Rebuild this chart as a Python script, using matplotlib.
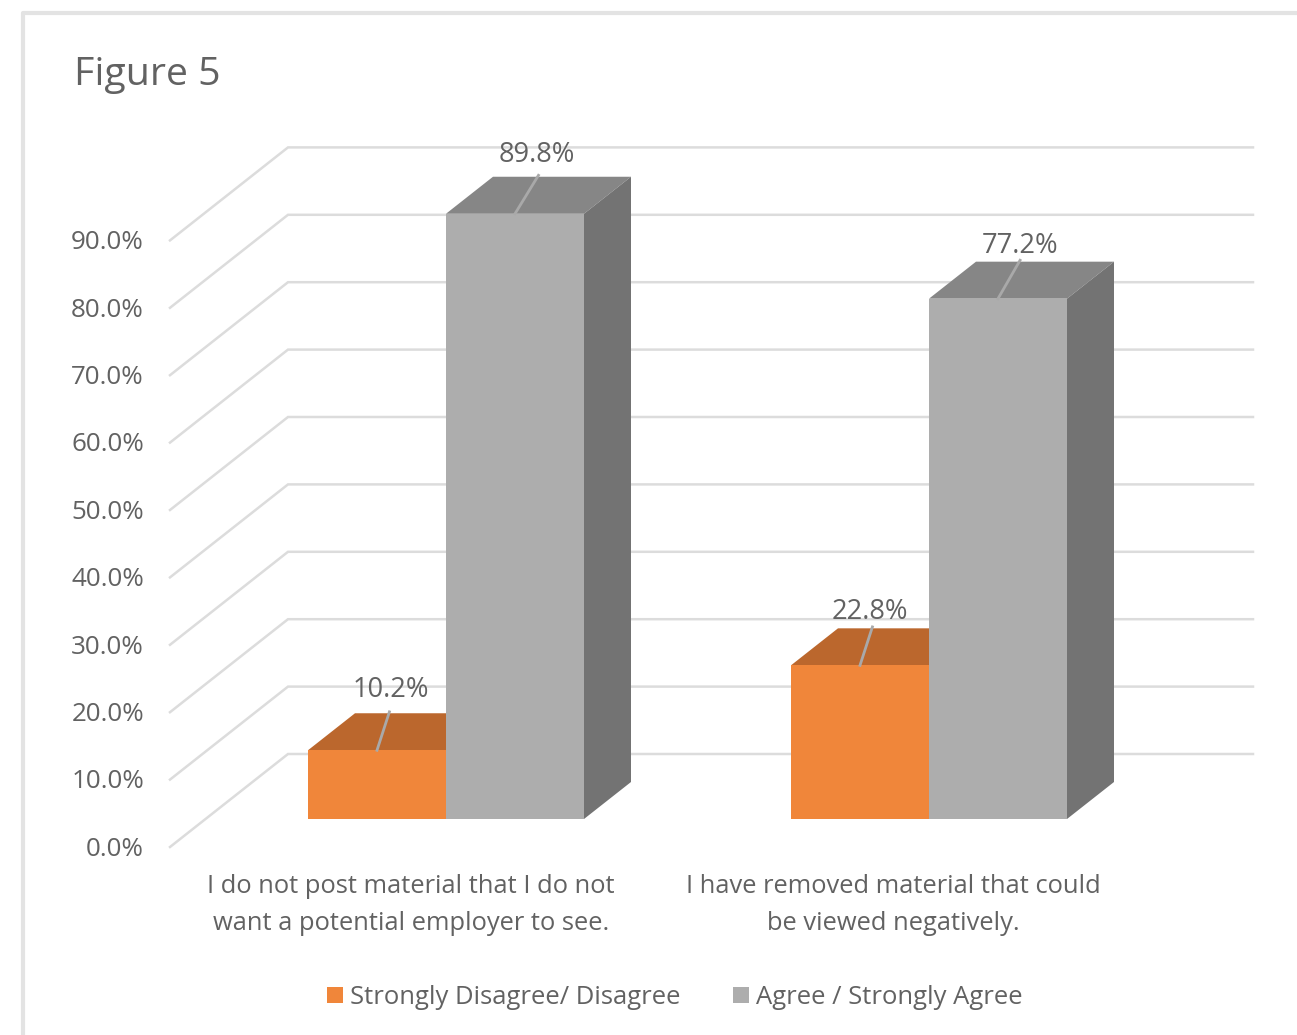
import matplotlib
matplotlib.use("Agg")
import matplotlib.pyplot as plt
from matplotlib.patches import Polygon, Rectangle

# Survey results, percent of respondents
categories = ["I do not post material that I do not\nwant a potential employer to see.",
              "I have removed material that could\nbe viewed negatively."]
series_names = ["Strongly Disagree/ Disagree", "Agree / Strongly Agree"]
disagree = [10.2, 22.8]
agree = [89.8, 77.2]
ticks = [0, 10, 20, 30, 40, 50, 60, 70, 80, 90]

W, H = 1297, 1035
PX_PER_BAR = 138.0    # one x unit
PX_PER_PCT = 6.74     # one percent
BASE_X, BASE_Y = 446.0, 819.0   # where x=0, y=0 lands on the canvas

CAT_POS = [0, 3.5]
BAR_W = 1.0
# slant of the 3D bars and of the walls, in data units
DX, DY = 47 / PX_PER_BAR, 37 / PX_PER_PCT
WALL_LEFT = (170 - BASE_X) / PX_PER_BAR
WALL_BACK = (288 - BASE_X) / PX_PER_BAR
WALL_RIGHT = (1253 - BASE_X) / PX_PER_BAR
FRONT_DROP = (819 - 847) / PX_PER_PCT
BACK_RISE = (819 - 754) / PX_PER_PCT

TEXT = "#626262"
GRID = "#dcdcdc"
ORANGE = ("#f0863a", "#bb672d")
GRAY = ("#adadad", "#868686", "#737373")

plt.rcParams["font.family"] = ["Open Sans", "DejaVu Sans"]

fig = plt.figure(figsize=(W / 100, H / 100), dpi=100, facecolor="white")
ax = fig.add_axes([0, 0, 1, 1])
ax.set_xlim(-BASE_X / PX_PER_BAR, (W - BASE_X) / PX_PER_BAR)
ax.set_ylim((BASE_Y - H) / PX_PER_PCT, BASE_Y / PX_PER_PCT)
ax.axis("off")


def px(x, y):
    return (x - BASE_X) / PX_PER_BAR, (BASE_Y - y) / PX_PER_PCT


# chart frame, top and left only
ax.plot(*zip(px(23, H), px(23, 13), px(W, 13)), color="#e3e3e3", lw=3, solid_capstyle="butt")

# gridlines running up the side wall and along the back wall
for t in ticks:
    ax.plot([WALL_LEFT, WALL_BACK, WALL_RIGHT],
            [t + FRONT_DROP, t + BACK_RISE, t + BACK_RISE],
            color=GRID, lw=1.8, solid_joinstyle="miter", zorder=1)
    ax.text(-BASE_X / PX_PER_BAR + 144 / PX_PER_BAR, t + FRONT_DROP - 0.35, "%.1f%%" % t,
            ha="right", va="center", fontsize=18.7, color=TEXT)


def bar3d(x0, v, colors, side=True):
    front, top = colors[0], colors[1]
    ax.add_patch(Polygon([(x0, v), (x0 + DX, v + DY), (x0 + BAR_W + DX, v + DY), (x0 + BAR_W, v)],
                         facecolor=top, edgecolor="none", zorder=3))
    if side:
        ax.add_patch(Polygon([(x0 + BAR_W, 0), (x0 + BAR_W + DX, DY), (x0 + BAR_W + DX, v + DY), (x0 + BAR_W, v)],
                             facecolor=colors[2], edgecolor="none", zorder=3))
    ax.add_patch(Rectangle((x0, 0), BAR_W, v, facecolor=front, edgecolor="none", zorder=4))


def value_label(x_mid, v, line_dx, label_dx, label_dy):
    # leader line from the front edge of the top face up to the label
    ax.plot([x_mid, x_mid + line_dx], [v, v + 5.7], color="#a9a9a9", lw=2, zorder=5)
    ax.text(x_mid + label_dx, v + label_dy, "%.1f%%" % v, ha="center", va="center",
            fontsize=19.6, color=TEXT, zorder=6)


for i, pos in enumerate(CAT_POS):
    bar3d(pos - BAR_W, disagree[i], ORANGE, side=False)
    bar3d(pos, agree[i], GRAY)

value_label(CAT_POS[0] - BAR_W / 2, disagree[0], 0.09, 0.10, 8.9)
value_label(CAT_POS[1] - BAR_W / 2, disagree[1], 0.09, 0.07, 7.9)
value_label(CAT_POS[0] + BAR_W / 2, agree[0], 0.17, 0.16, 8.7)
value_label(CAT_POS[1] + BAR_W / 2, agree[1], 0.16, 0.16, 7.8)

# category labels
cat_x = [411, 893]
for name, x in zip(categories, cat_x):
    ax.text(*px(x, 905), name, ha="center", va="center", fontsize=18.4, color=TEXT, linespacing=1.6)

ax.text(*px(74, 75), "Figure 5", ha="left", va="center", fontsize=28.3, color=TEXT)

# legend
ax.add_patch(Rectangle(px(327, 1003), 16 / PX_PER_BAR, 16 / PX_PER_PCT, facecolor=ORANGE[0], edgecolor="none"))
ax.text(*px(350, 997), series_names[0], ha="left", va="center", fontsize=18.45, color=TEXT)
ax.add_patch(Rectangle(px(733, 1003), 16 / PX_PER_BAR, 16 / PX_PER_PCT, facecolor=GRAY[0], edgecolor="none"))
ax.text(*px(756, 997), series_names[1], ha="left", va="center", fontsize=18.45, color=TEXT)

fig.savefig("out.png", dpi=100)
